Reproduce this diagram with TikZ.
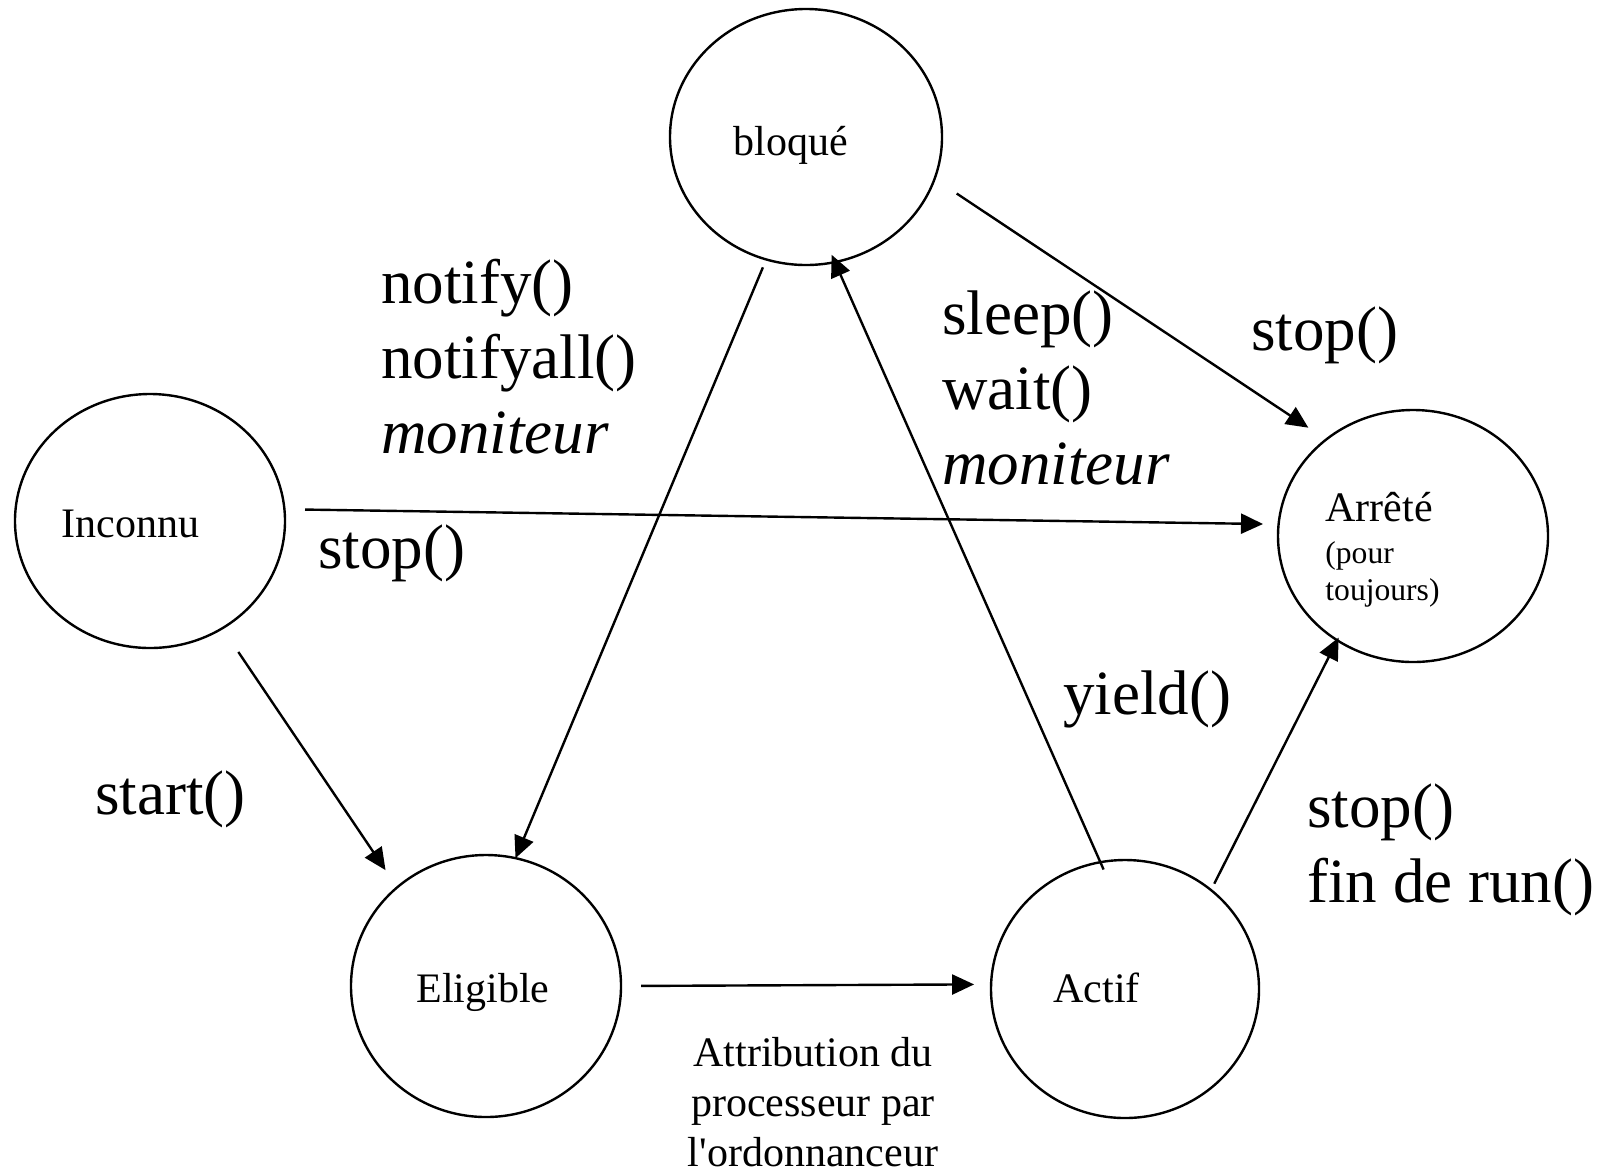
\documentclass[tikz,border=0pt]{standalone}
\usepackage{fontspec}
\setmainfont{Liberation Serif}
\usetikzlibrary{shapes.geometric,arrows.meta}
\begin{document}
\begin{tikzpicture}[x=0.5pt,y=-0.5pt,
  state/.style={draw,ellipse,line width=1.2pt,inner sep=0pt,outer sep=0pt},
  big/.style={inner sep=0pt,font=\fontsize{31.5}{37.5}\selectfont,align=left,anchor=base west},
  small/.style={inner sep=0pt,font=\fontsize{21}{25}\selectfont,anchor=base west},
  tiny/.style={inner sep=0pt,font=\fontsize{15.8}{18.5}\selectfont,anchor=base west,align=left},
  arr/.style={line width=1.2pt,-{Triangle[length=11pt,width=10pt]}}]
\useasboundingbox (0,0) rectangle (1615,1174);
% states
\node[state,minimum width=136pt,minimum height=128pt] (B) at (806,137) {};
\node[state,minimum width=135pt,minimum height=127pt] (I) at (150,521) {};
\node[state,minimum width=135pt,minimum height=126pt] (A) at (1413,536) {};
\node[state,minimum width=135pt,minimum height=131pt] (E) at (486,986) {};
\node[state,minimum width=134pt,minimum height=129pt] (C) at (1125,989) {};
% state texts
\node[small] (tB) at (733,155) {bloqué};
\node[small] (tI) at (61,537) {Inconnu};
\node[small] (tE) at (416,1002) {Eligible};
\node[small] (tC) at (1053,1002) {Actif};
\node[small] (tA) at (1325,521) {Arrêté};
\node[tiny] (tA2) at (1325,600) {(pour\\toujours)};
% connectors
\draw[arr,shorten <=4.3pt] (B.252.6) -- (E.77.3);
\draw[arr,shorten <=-4pt,shorten >=-4pt] (C.101.9) -- (B.283);
\draw[arr,shorten <=13.3pt,shorten >=10.7pt] (B.342) -- (A.132.9);
\draw[arr,shorten <=10.3pt,shorten >=7.8pt] (I.5.2) -- (A.175);
\draw[arr,shorten <=14.3pt,shorten >=10.4pt] (I.304.7) -- (E.132.1);
\draw[arr,shorten <=10pt,shorten >=8.5pt] (E.0) -- (C.178.9);
\draw[arr,shorten <=3.6pt,shorten >=-1.5pt] (C.49.4) -- (A.234.8);
% labels
\node[big] (lN) at (381,453) {notify()\\notifyall()\\\textit{moniteur}};
\node[big] (lS) at (942,484) {sleep()\\wait()\\\textit{moniteur}};
\node[big] (lStopA) at (1251,350) {stop()};
\node[big] (lStopI) at (318,568) {stop()};
\node[big] (lStart) at (95,814) {start()};
\node[big] (lYield) at (1063,714) {yield()};
\node[big] (lRun) at (1307,902) {stop()\\fin de run()};
\node[small,anchor=base,align=center] (lSched) at (813,1166) {Attribution du\\processeur par\\l\textquotesingle ordonnanceur};
\end{tikzpicture}
\end{document}
